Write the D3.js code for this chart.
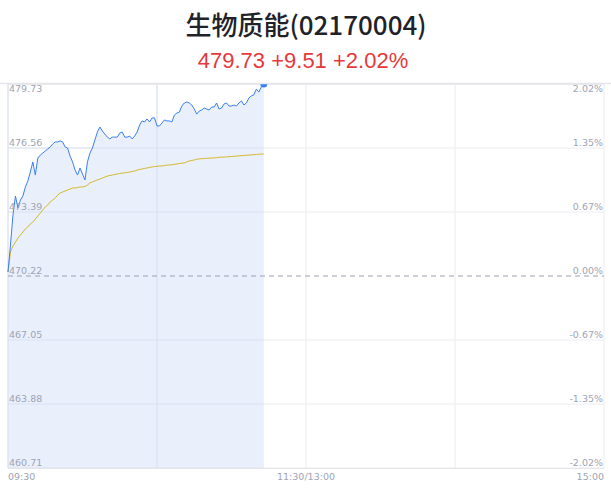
<!DOCTYPE html>
<html><head><meta charset="utf-8">
<script src="https://cdn.jsdelivr.net/npm/d3@7/dist/d3.min.js"></script>
<style>body{margin:0;background:#fff;}svg{display:block;font-family:"Noto Sans CJK SC","Noto Sans",sans-serif;}</style>
</head><body>
<svg id="c" width="611" height="492"></svg>
<script>
const title = "生物质能(02170004)";
const subtitle = "479.73 +9.51 +2.02%";
const prevClose = 470.22;
const leftTicks = [479.73, 476.56, 473.39, 470.22, 467.05, 463.88, 460.71];
const rightTicks = ["2.02%", "1.35%", "0.67%", "0.00%", "-0.67%", "-1.35%", "-2.02%"];
const timeLabels = ["09:30", "11:30/13:00", "15:00"];
const totalMinutes = 240;
const price = [470.42,471.76,473.24,474.18,473.59,473.98,474.18,474.63,474.93,475.37,
475.87,475.22,476.06,476.21,476.31,476.41,476.51,476.61,476.76,476.86,
476.86,476.91,476.86,476.61,476.56,476.16,475.87,475.47,475.22,475.57,
475.27,474.98,475.87,476.31,476.56,476.96,477.35,477.60,477.40,477.25,
477.10,477.01,477.10,477.10,477.10,477.30,477.35,477.10,477.10,477.15,
477.01,477.15,477.35,477.70,477.90,477.85,478.00,477.85,478.05,478.05,
477.65,477.65,477.80,477.95,477.90,477.90,477.85,478.19,478.29,478.34,
478.64,478.79,478.84,478.79,478.69,478.49,478.24,478.39,478.44,478.54,
478.49,478.44,478.59,478.59,478.79,478.49,478.54,478.74,478.79,478.64,
478.64,478.69,478.64,478.79,478.89,478.69,478.79,479.04,479.14,479.19,
479.48,479.33,479.58,479.73];
const avg = [470.42,471.41,471.71,471.90,472.10,472.25,472.40,472.55,472.65,472.80,
472.89,473.04,473.19,473.34,473.49,473.64,473.74,473.89,473.98,474.08,
474.23,474.33,474.38,474.43,474.48,474.53,474.58,474.58,474.60,474.63,
474.63,474.65,474.73,474.83,474.88,474.93,474.98,475.02,475.07,475.12,
475.17,475.20,475.22,475.25,475.27,475.30,475.32,475.33,475.35,475.37,
475.40,475.42,475.47,475.50,475.52,475.55,475.57,475.60,475.62,475.64,
475.65,475.67,475.67,475.69,475.71,475.72,475.73,475.75,475.77,475.79,
475.81,475.82,475.87,475.92,475.94,475.97,476.00,476.02,476.03,476.04,
476.05,476.06,476.06,476.07,476.08,476.10,476.11,476.11,476.12,476.13,
476.14,476.15,476.16,476.17,476.18,476.19,476.20,476.21,476.22,476.23,
476.24,476.25,476.26,476.26];

const svg = d3.select("#c");
const L = 8, R = 604, T = 84, B = 468;
const x = d3.scaleLinear().domain([0, totalMinutes]).range([L, R]);
const y = d3.scaleLinear().domain([leftTicks[leftTicks.length-1], leftTicks[0]]).range([B, T]);

svg.append("text").attr("x", 306).attr("y", 35).attr("text-anchor", "middle")
  .attr("font-size", 26).attr("font-weight", 500).attr("fill", "#1f2329").text(title);
svg.append("text").attr("x", 303).attr("y", 68).attr("text-anchor", "middle")
  .attr("font-size", 22).attr("fill", "#e5393b").attr("font-family", "'Liberation Sans', Arial, sans-serif").text(subtitle);

// horizontal grid
leftTicks.forEach((v, i) => {
  if (v === prevClose) return;
  svg.append("line").attr("x1", L).attr("x2", R).attr("y1", y(v)).attr("y2", y(v))
    .attr("stroke", i === 0 ? "#e3e3e6" : "#ececf0").attr("stroke-width", i === 0 ? 1.5 : 1);
});
// vertical grid
[0, 60, 120, 180, 240].forEach(m => {
  svg.append("line").attr("x1", x(m)).attr("x2", x(m)).attr("y1", T).attr("y2", B)
    .attr("stroke", "#ececf0").attr("stroke-width", 1);
});

// area
const area = d3.area().x((d, i) => x(i)).y0(B).y1(d => y(d));
svg.append("path").datum(price).attr("d", area).attr("fill", "#e8effc").attr("opacity", 0.95);

// grid lines within area
[60].forEach(m => {
  svg.append("line").attr("x1", x(m)).attr("x2", x(m)).attr("y1", T).attr("y2", B)
    .attr("stroke", "#d6e0f2").attr("stroke-width", 1);
});
leftTicks.forEach((v, i) => {
  if (v === prevClose || i === 0) return;
  svg.append("line").attr("x1", L).attr("x2", x(price.length - 1)).attr("y1", y(v)).attr("y2", y(v))
    .attr("stroke", "#d9e2f3").attr("stroke-width", 1);
});
svg.append("line").attr("x1", L).attr("x2", L).attr("y1", T).attr("y2", B)
  .attr("stroke", "#d6e0f2").attr("stroke-width", 1);

// prev close dashed
svg.append("line").attr("x1", L).attr("x2", R).attr("y1", y(prevClose)).attr("y2", y(prevClose))
  .attr("stroke", "#9aa0b4").attr("stroke-width", 1).attr("stroke-dasharray", "5,4");

// avg line and price line
const line = d3.line().x((d, i) => x(i)).y(d => y(d));
svg.append("path").datum(avg).attr("d", line).attr("fill", "none")
  .attr("stroke", "#d6b72c").attr("stroke-width", 1);
svg.append("path").datum(price).attr("d", line).attr("fill", "none")
  .attr("stroke", "#3b7ff2").attr("stroke-width", 1);

// last dot
svg.append("clipPath").attr("id", "clp").append("rect").attr("x", 0).attr("y", T).attr("width", 611).attr("height", B - T);
svg.append("circle").attr("clip-path", "url(#clp)")
  .attr("cx", x(price.length - 1)).attr("cy", y(price[price.length - 1])).attr("r", 3.5).attr("fill", "#3b7ff2");

// borders
svg.append("line").attr("x1", 0).attr("x2", 611).attr("y1", T - 0.5).attr("y2", T - 0.5)
  .attr("stroke", "#e6e6ea").attr("stroke-width", 1.5);
svg.append("line").attr("x1", L).attr("x2", R).attr("y1", B + 0.5).attr("y2", B + 0.5)
  .attr("stroke", "#e6e6ea").attr("stroke-width", 1);

// labels
const lblColor = "#9ea3b4";
const fnt = "'DejaVu Sans', sans-serif";
leftTicks.forEach((v, i) => {
  const yy = i === 0 ? y(v) + 8 : y(v) - 2.5;
  svg.append("text").attr("x", L + 1).attr("y", yy).attr("font-size", 9.5)
    .attr("font-family", fnt).attr("fill", lblColor).text(v.toFixed(2));
  svg.append("text").attr("x", R - 1).attr("y", yy).attr("font-size", 9.5).attr("text-anchor", "end")
    .attr("font-family", fnt).attr("fill", lblColor).text(rightTicks[i]);
});
const tx = [[x(0), "start"], [x(120), "middle"], [x(240), "end"]];
timeLabels.forEach((t, i) => {
  svg.append("text").attr("x", tx[i][0]).attr("y", 480).attr("font-size", 9.5)
    .attr("text-anchor", tx[i][1]).attr("font-family", fnt).attr("fill", lblColor).text(t);
});
</script>
</body></html>
